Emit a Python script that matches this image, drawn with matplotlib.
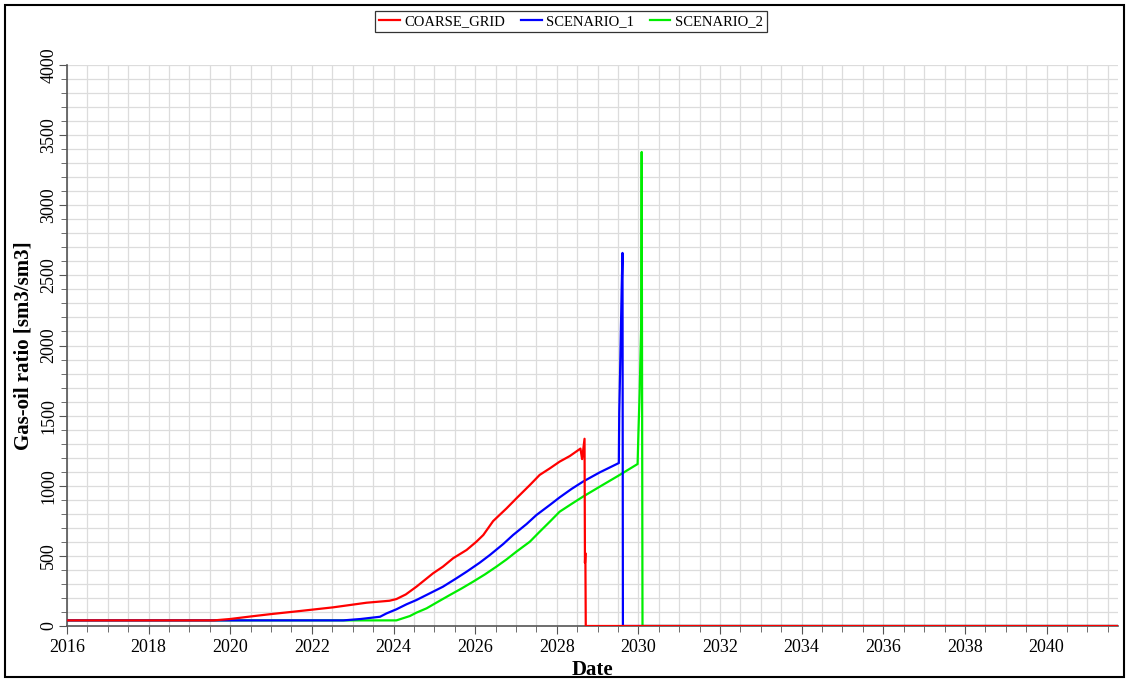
import matplotlib
matplotlib.use("Agg")
import matplotlib.pyplot as plt
from matplotlib.ticker import MultipleLocator, FuncFormatter
from matplotlib.patches import Rectangle

plt.rcParams['font.family'] = ['Liberation Serif', 'DejaVu Serif']

# Time in decimal years, gas-oil ratio in sm3/sm3
coarse_t = [2016.0, 2019.6, 2020.0, 2020.5, 2021.0, 2021.71, 2022.52, 2023.34, 2023.9,
            2024.07, 2024.3, 2024.56, 2024.97, 2025.21, 2025.46, 2025.79, 2026.03, 2026.2,
            2026.44, 2026.77, 2027.01, 2027.34, 2027.58, 2027.83, 2028.07, 2028.32,
            2028.58, 2028.62, 2028.68, 2028.69, 2028.70, 2028.71, 2041.75]
coarse_v = [40, 40, 50, 68, 85, 107, 133, 166, 180,
            192, 225, 280, 376, 423, 483, 542, 601, 649,
            748, 839, 910, 1005, 1077, 1124, 1172, 1212,
            1265, 1190, 1335, 450, 520, 0, 0]

sc1_t = [2016.0, 2022.77, 2023.2, 2023.67, 2023.83, 2024.07, 2024.32, 2024.56, 2025.21,
         2025.54, 2025.79, 2026.11, 2026.36, 2026.69, 2026.93, 2027.26, 2027.50, 2027.83,
         2028.07, 2028.36, 2028.64, 2029.05, 2029.52, 2029.53, 2029.55, 2029.57,
         2029.59, 2029.61, 2029.62, 2041.75]
sc1_v = [40, 40, 50, 66, 90, 119, 155, 185, 280,
         340, 387, 451, 506, 585, 649, 727, 791, 863,
         917, 977, 1029, 1095, 1162, 1520, 1800, 2100,
         2410, 2660, 0, 0]

sc2_t = [2016.0, 2024.07, 2024.40, 2024.56, 2024.81, 2025.09, 2025.38, 2025.67, 2025.95,
         2026.24, 2026.52, 2026.77, 2027.01, 2027.34, 2027.58, 2027.83, 2028.07, 2028.36,
         2028.64, 2029.05, 2029.50, 2029.98, 2030.00, 2030.03, 2030.05, 2030.07,
         2030.08, 2030.10, 2041.75]
sc2_v = [40, 40, 71, 95, 126, 173, 221, 268, 316,
         368, 423, 475, 530, 601, 672, 744, 815, 870,
         922, 993, 1070, 1155, 1376, 1661, 1920, 2160,
         3380, 0, 0]

series_names = ['COARSE_GRID', 'SCENARIO_1', 'SCENARIO_2']
series_colors = ['#ff0000', '#0000ff', '#00ee00']

fig = plt.figure(figsize=(11.26, 6.79), dpi=100)
ax = fig.add_axes([67 / 1126, 1 - 626 / 679, (1118 - 67) / 1126, (626 - 65) / 679])

h_sc2, = ax.plot(sc2_t, sc2_v, color=series_colors[2], lw=1.6, zorder=3)
h_sc1, = ax.plot(sc1_t, sc1_v, color=series_colors[1], lw=1.6, zorder=4)
h_cg, = ax.plot(coarse_t, coarse_v, color=series_colors[0], lw=1.6, zorder=5)

ax.set_xlim(2016, 2041.75)
ax.set_ylim(0, 4000)
ax.xaxis.set_major_locator(MultipleLocator(2))
ax.xaxis.set_minor_locator(MultipleLocator(0.5))
ax.yaxis.set_major_locator(MultipleLocator(500))
ax.yaxis.set_minor_locator(MultipleLocator(100))
ax.xaxis.set_major_formatter(FuncFormatter(lambda v, p: f"{int(round(v))}"))

ax.grid(which='both', color='#dcdcdc', lw=0.9, zorder=0)
ax.set_axisbelow(True)
for s in ('top', 'right'):
    ax.spines[s].set_visible(False)
for s in ('left', 'bottom'):
    ax.spines[s].set_color('#555555')
    ax.spines[s].set_linewidth(1.2)

ax.tick_params(which='both', direction='out', colors='#555555', labelcolor='black')
ax.tick_params(which='major', length=6, labelsize=13)
ax.tick_params(axis='x', which='major', pad=3)
ax.tick_params(axis='y', which='major', pad=1)
ax.tick_params(which='minor', length=4)
for lbl in ax.get_yticklabels():
    lbl.set_rotation(90)
    lbl.set_va('center')

ax.set_xlabel('Date', fontsize=15, fontweight='bold', labelpad=3)
ax.set_ylabel('Gas-oil ratio [sm3/sm3]', fontsize=15, fontweight='bold', labelpad=5)

leg = fig.legend([h_cg, h_sc1, h_sc2], series_names, loc='center',
                 bbox_to_anchor=(571 / 1126, 1 - 21.5 / 679), ncol=3, fontsize=10.5,
                 frameon=True, fancybox=False, handlelength=1.4, handletextpad=0.3,
                 columnspacing=1.1, borderpad=0.3)
leg.get_frame().set_edgecolor('black')
leg.get_frame().set_linewidth(0.9)

fig.patches.append(Rectangle((5 / 1126, 2 / 679), 1119 / 1126, 672 / 679,
                             transform=fig.transFigure, fill=False,
                             edgecolor='black', lw=1.5))

fig.savefig('out.png', dpi=100)
